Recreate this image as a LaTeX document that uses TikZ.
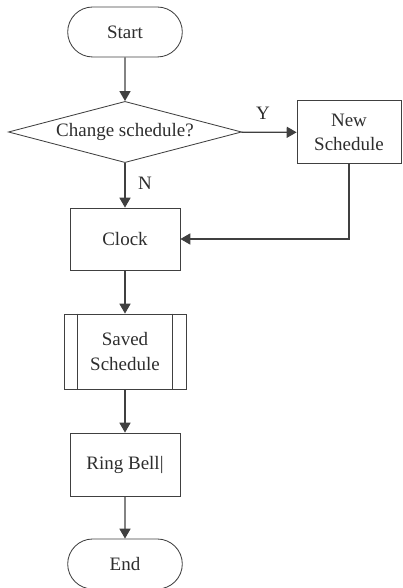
\documentclass[tikz,border=0pt]{standalone}
\usepackage{fontspec}
\setmainfont{Liberation Serif}
\usetikzlibrary{arrows,shapes.misc,shapes.geometric,positioning}

\definecolor{linegray}{RGB}{64,64,64}
\definecolor{textgray}{RGB}{45,45,45}

\begin{document}
\begin{tikzpicture}[
  terminal/.style={rounded rectangle, draw=linegray, line width=0.6pt, minimum width=3.1cm, minimum height=1.25cm, text centered},
  procbox/.style={rectangle, draw=linegray, line width=0.6pt, text centered, align=center, inner sep=0pt},
  decision/.style={diamond, draw=linegray, line width=0.6pt, aspect=3.8, inner sep=0pt, minimum width=5.83cm, minimum height=1.53cm, text centered},
  flow/.style={->, -triangle 60, draw=linegray, line width=0.9pt},
  every node/.style={text=textgray, font=\fontsize{13.5}{17.5}\selectfont}
]

\path[use as bounding box] (0,0) rectangle (10.05,14.7);

% Boxes
\draw (3.125,13.9) node [terminal] (start) {Start};
\draw (3.125,11.4) node [decision] (change) {Change schedule?};
\draw (8.725,11.39) node [procbox, minimum width=2.6cm, minimum height=1.575cm] (newSchedule) {New\\Schedule};
\draw (3.125,8.725) node [procbox, minimum width=2.75cm, minimum height=1.55cm] (clock) {Clock};
\draw (3.125,5.9125) node [procbox, minimum width=3.05cm, minimum height=1.875cm] (savedSchedule) {Saved\\Schedule};
\draw (3.125,3.0875) node [procbox, minimum width=2.75cm, minimum height=1.575cm] (ringBell) {Ring Bell|};
\draw (3.125,0.6) node [terminal] (end) {End};

% side bars of the stored process box
\draw [linegray, line width=0.6pt] ([xshift=0.35cm]savedSchedule.north west) -- ([xshift=0.35cm]savedSchedule.south west);
\draw [linegray, line width=0.6pt] ([xshift=-0.35cm]savedSchedule.north east) -- ([xshift=-0.35cm]savedSchedule.south east);

% Labels
\draw (6.575,11.875) node (yes) {Y};
\draw (3.625,10.125) node (no) {N};

% Lines
\draw [flow] (start)--(change);
\draw [flow] (change)--(newSchedule);
\draw [flow] (change)--(clock);
\draw [flow] (newSchedule.south) |- (clock.east);
\draw [flow] (clock)--(savedSchedule);
\draw [flow] (savedSchedule)--(ringBell);
\draw [flow] (ringBell)--(end);
\end{tikzpicture}
\end{document}
